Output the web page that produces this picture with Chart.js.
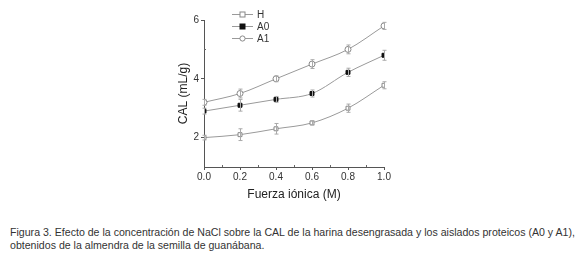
<!DOCTYPE html>
<html><head><meta charset="utf-8">
<script src="https://cdn.jsdelivr.net/npm/chart.js@4/dist/chart.umd.min.js"></script>
<style>
html,body{margin:0;padding:0;background:#fff;}
#wrap{position:relative;width:580px;height:260px;overflow:hidden;}
#cw{position:absolute;left:0;top:0;width:580px;height:210px;}
#cap{position:absolute;left:10px;top:226px;width:570px;font-family:"Liberation Sans",Arial,sans-serif;font-size:10.6px;line-height:12.5px;color:#333;white-space:nowrap;}
</style></head>
<body><div id="wrap"><div id="cw"><canvas id="c" width="580" height="210"></canvas></div>
<div id="cap">Figura 3. Efecto de la concentración de NaCl sobre la CAL de la harina desengrasada y los aislados proteicos (A0 y A1),<br>obtenidos de la almendra de la semilla de guanábana.</div></div>
<script>
const xValues = [0.0, 0.2, 0.4, 0.6, 0.8, 1.0];
const seriesNames = ["H", "A0", "A1"];
const H  = [2.0, 2.1, 2.3, 2.5, 3.0, 3.78];
const A0 = [2.9, 3.1, 3.3, 3.5, 4.22, 4.8];
const A1 = [3.2, 3.5, 4.0, 4.5, 5.0, 5.8];
const errH  = [0.08, 0.2, 0.18, 0.07, 0.14, 0.12];
const errA0 = [0.1, 0.2, 0.1, 0.12, 0.14, 0.17];
const errA1 = [0.1, 0.15, 0.1, 0.15, 0.15, 0.12];
const yTicks = [2, 4, 6];

const lineCol = '#9a9a9a';
function pts(v){ return xValues.map((x,i)=>({x:x,y:v[i]})); }

const errPlugin = {
  id:'err',
  afterDatasetsDraw(chart){
    const ctx = chart.ctx, xs = chart.scales.x, ys = chart.scales.y;
    const errs = [errH, errA0, errA1];
    ctx.save();
    ctx.strokeStyle = '#aaa'; ctx.lineWidth = 1;
    chart.data.datasets.forEach((ds,di)=>{
      ds.data.forEach((p,i)=>{
        const px = Math.round(xs.getPixelForValue(p.x))+0.5;
        const y1 = ys.getPixelForValue(p.y - errs[di][i]);
        const y2 = ys.getPixelForValue(p.y + errs[di][i]);
        ctx.beginPath();
        ctx.moveTo(px,y1); ctx.lineTo(px,y2);
        ctx.moveTo(px-2,y1); ctx.lineTo(px+2,y1);
        ctx.moveTo(px-2,y2); ctx.lineTo(px+2,y2);
        ctx.stroke();
      });
    });
    ctx.restore();
  },
  beforeDatasetsDraw(chart){
    const ctx = chart.ctx, xs = chart.scales.x, ys = chart.scales.y, ca = chart.chartArea;
    ctx.save(); ctx.strokeStyle='#666'; ctx.lineWidth=1;
    for(let v=0.1; v<1.0; v+=0.2){
      const px = Math.round(xs.getPixelForValue(v))+0.5;
      ctx.beginPath(); ctx.moveTo(px, ca.bottom); ctx.lineTo(px, ca.bottom-2); ctx.stroke();
    }
    [3,5].forEach(v=>{
      const py = Math.round(ys.getPixelForValue(v))+0.5;
      ctx.beginPath(); ctx.moveTo(ca.left, py); ctx.lineTo(ca.left+2, py); ctx.stroke();
    });
    ctx.restore();
  },
  afterDraw(chart){
    const ctx = chart.ctx;
    ctx.save();
    ctx.font = '10px "Liberation Sans", Arial, sans-serif';
    ctx.textBaseline = 'middle';
    chart.data.datasets.forEach((ds,i)=>{
      const y = 14 + i*12;
      ctx.strokeStyle = lineCol; ctx.lineWidth=1;
      ctx.beginPath(); ctx.moveTo(232,y+0.5); ctx.lineTo(253,y+0.5); ctx.stroke();
      ctx.fillStyle = ds.pointBackgroundColor; ctx.strokeStyle = ds.pointBorderColor;
      if(ds.pointStyle==='circle'){
        ctx.beginPath(); ctx.arc(242.5,y+0.5,2.6,0,Math.PI*2); ctx.fill(); ctx.stroke();
      } else {
        ctx.fillRect(240,y-2,5,5); ctx.strokeRect(240,y-2,5,5);
      }
      ctx.fillStyle = '#333';
      ctx.fillText(ds.label, 257, y+1);
    });
    ctx.restore();
  }
};

new Chart(document.getElementById('c'), {
  type:'line',
  data:{ datasets:[
    {label:seriesNames[0], data:pts(H), borderColor:lineCol, borderWidth:1, tension:0.4, cubicInterpolationMode:'monotone',
     pointStyle:'rect', pointRadius:2.8, pointBackgroundColor:'#fff', pointBorderColor:'#888', pointBorderWidth:1},
    {label:seriesNames[1], data:pts(A0), borderColor:lineCol, borderWidth:1, tension:0.4, cubicInterpolationMode:'monotone',
     pointStyle:'rect', pointRadius:2.8, pointBackgroundColor:'#111', pointBorderColor:'#111', pointBorderWidth:1},
    {label:seriesNames[2], data:pts(A1), borderColor:lineCol, borderWidth:1, tension:0.4, cubicInterpolationMode:'monotone',
     pointStyle:'circle', pointRadius:3, pointBackgroundColor:'#fff', pointBorderColor:'#888', pointBorderWidth:1}
  ]},
  options:{
    responsive:false, animation:false, devicePixelRatio:1,
    layout:{padding:{left:176, right:196, top:20, bottom:8}},
    plugins:{legend:{display:false}, tooltip:{enabled:false}},
    scales:{
      x:{type:'linear', min:0, max:1,
        afterBuildTicks(s){ s.ticks = xValues.map(v=>({value:v})); },
        afterFit(s){ s.height = 35; },
        border:{display:true, color:'#555', width:1},
        grid:{drawOnChartArea:false, tickLength:3, color:'#555'},
        ticks:{color:'#333', padding:1, maxRotation:0, font:{family:'"Liberation Sans", Arial, sans-serif', size:10},
          callback:(v)=>Number(v).toFixed(1)},
        title:{display:true, text:'Fuerza iónica (M)', color:'#222', padding:{top:2,bottom:0}, font:{family:'"Liberation Sans", Arial, sans-serif', size:12}}
      },
      y:{type:'linear', min:1, max:6,
        afterBuildTicks(s){ s.ticks = yTicks.map(v=>({value:v})); },
        afterFit(s){ s.width = 28; },
        border:{display:true, color:'#555', width:1},
        grid:{drawOnChartArea:false, tickLength:3, color:'#555'},
        ticks:{color:'#333', padding:2, font:{family:'"Liberation Sans", Arial, sans-serif', size:10}},
        title:{display:true, text:'CAL (mL/g)', color:'#222', padding:{top:0,bottom:0}, font:{family:'"Liberation Sans", Arial, sans-serif', size:12}}
      }
    }
  },
  plugins:[errPlugin]
});
</script></body></html>
